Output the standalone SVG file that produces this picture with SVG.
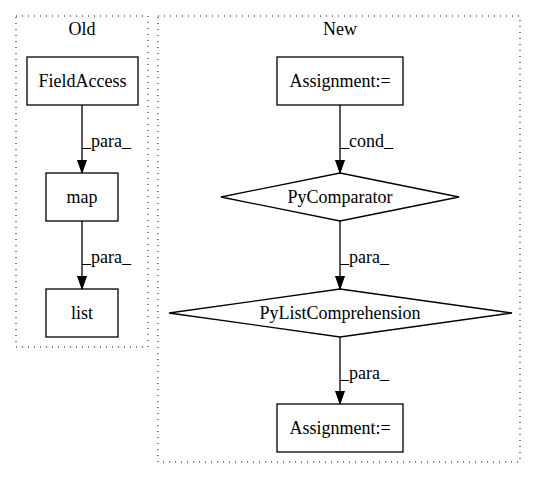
<svg xmlns="http://www.w3.org/2000/svg" width="536" height="480" viewBox="0 0 536 480" font-family="'Liberation Serif', 'Times New Roman', Times, serif" font-size="18">
<style>
text{font-family:'Liberation Serif','Times New Roman',Times,serif;font-size:18px;fill:#000}
.c{text-anchor:middle}
.cl{fill:none;stroke:#000;stroke-dasharray:1,5}
.n{fill:#fff;stroke:#000;stroke-width:1.3}
.e{fill:none;stroke:#000;stroke-width:1.3}
</style>
<defs>
<marker id="ah" markerWidth="13" markerHeight="10" refX="13" refY="5" orient="auto" markerUnits="userSpaceOnUse">
<polygon points="0,0.5 13,5 0,9.5" fill="#000" stroke="#000"/>
</marker>
</defs>
<rect width="536" height="480" fill="#fff"/>
<g id="cluster_old">
<rect class="cl" x="16" y="16" width="132" height="331"/>
<text class="c" x="82" y="35">Old</text>
</g>
<g id="cluster_new">
<rect class="cl" x="158" y="16" width="362" height="446"/>
<text class="c" x="340" y="35">New</text>
</g>
<g id="edges">
<path class="e" d="M82,105 V173" marker-end="url(#ah)"/>
<text x="82" y="147">_para_</text>
<path class="e" d="M82,221 V289" marker-end="url(#ah)"/>
<text x="82" y="263">_para_</text>
<path class="e" d="M340,105 V173" marker-end="url(#ah)"/>
<text x="340" y="147">_cond_</text>
<path class="e" d="M340,221 V289" marker-end="url(#ah)"/>
<text x="340" y="263">_para_</text>
<path class="e" d="M340,337 V404" marker-end="url(#ah)"/>
<text x="340" y="379">_para_</text>
</g>
<g id="FieldAccess">
<rect class="n" x="27" y="57" width="111" height="48"/>
<text class="c" x="82.5" y="87">FieldAccess</text>
</g>
<g id="map">
<rect class="n" x="46" y="173" width="72" height="48"/>
<text class="c" x="82" y="203">map</text>
</g>
<g id="list">
<rect class="n" x="46" y="289" width="72" height="48"/>
<text class="c" x="82" y="319">list</text>
</g>
<g id="Assignment1">
<rect class="n" x="277" y="57" width="126" height="48"/>
<text class="c" x="340" y="87">Assignment:=</text>
</g>
<g id="PyComparator">
<polygon class="n" points="340,173 459,197 340,221 221,197"/>
<text class="c" x="340" y="203">PyComparator</text>
</g>
<g id="PyListComprehension">
<polygon class="n" points="340,289 512,313 340,337 169,313"/>
<text class="c" x="340" y="319">PyListComprehension</text>
</g>
<g id="Assignment2">
<rect class="n" x="277" y="404" width="126" height="48"/>
<text class="c" x="340" y="434">Assignment:=</text>
</g>
</svg>
